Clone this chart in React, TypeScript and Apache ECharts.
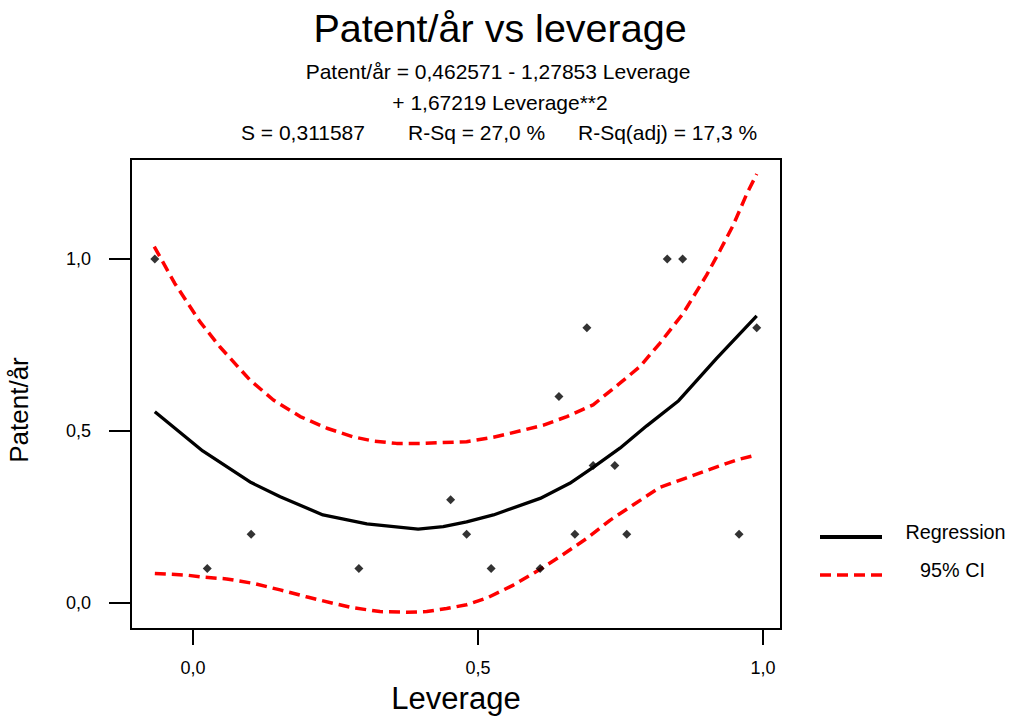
import React, { useEffect, useRef } from "react";
import * as echarts from "echarts";

const FONT = "'Liberation Sans', Arial, sans-serif";

const xTicks = [0, 0.5, 1.0];
const yTicks = [0, 0.5, 1.0];

// observed data (Leverage, Patent/år)
const observations: [number, number][] = [
  [-0.067, 1.0], [0.025, 0.1], [0.102, 0.2], [0.291, 0.1], [0.452, 0.3],
  [0.48, 0.2], [0.523, 0.1], [0.609, 0.1], [0.642, 0.6], [0.67, 0.2],
  [0.691, 0.8], [0.702, 0.4], [0.74, 0.4], [0.761, 0.2], [0.832, 1.0],
  [0.859, 1.0], [0.958, 0.2], [0.989, 0.8],
];

const regression: [number, number][] = [
  [-0.067, 0.556], [0.017, 0.442], [0.102, 0.35], [0.153, 0.309], [0.228, 0.256],
  [0.305, 0.23], [0.395, 0.215], [0.439, 0.222], [0.48, 0.236], [0.527, 0.256],
  [0.609, 0.304], [0.661, 0.348], [0.702, 0.394], [0.749, 0.45], [0.796, 0.515],
  [0.852, 0.588], [0.919, 0.712], [0.989, 0.835],
];

const ciUpper: [number, number][] = [
  [-0.068, 1.036], [-0.032, 0.929], [0.012, 0.818], [0.047, 0.745], [0.1, 0.648],
  [0.141, 0.59], [0.188, 0.542], [0.235, 0.508], [0.281, 0.483], [0.316, 0.471],
  [0.357, 0.464], [0.398, 0.464], [0.48, 0.469], [0.527, 0.482], [0.556, 0.493],
  [0.615, 0.517], [0.656, 0.542], [0.702, 0.576], [0.749, 0.639], [0.784, 0.687],
  [0.819, 0.755], [0.86, 0.842], [0.901, 0.953], [0.925, 1.026], [0.948, 1.099],
  [0.972, 1.191], [0.989, 1.247],
];

const ciLower: [number, number][] = [
  [-0.067, 0.086], [-0.011, 0.081], [0.018, 0.075], [0.059, 0.07], [0.106, 0.057],
  [0.153, 0.038], [0.199, 0.018], [0.246, -0.001], [0.281, -0.014], [0.328, -0.025],
  [0.375, -0.027], [0.41, -0.025], [0.445, -0.016], [0.48, -0.005], [0.515, 0.014],
  [0.562, 0.052], [0.609, 0.098], [0.644, 0.135], [0.691, 0.188], [0.732, 0.241],
  [0.772, 0.285], [0.819, 0.336], [0.866, 0.364], [0.913, 0.392], [0.954, 0.416],
  [0.988, 0.43],
];

const fmt = (v: number) => v.toFixed(1).replace(".", ",");

export default function App() {
  const ref = useRef<HTMLDivElement>(null);
  useEffect(() => {
    if (!ref.current) return;
    const chart = echarts.init(ref.current, null, { renderer: "svg" });
    const txt = (text: string, x: number, y: number, size: number, align = "center", extra: any = {}) => ({
      type: "text",
      x,
      y,
      ...extra,
      style: {
        text,
        fontSize: size,
        fontFamily: FONT,
        fill: "#000",
        align,
        verticalAlign: "middle",
      },
    });
    chart.setOption({
      animation: false,
      backgroundColor: "#fff",
      grid: {
        left: 131,
        top: 159,
        width: 650,
        height: 470,
        show: true,
        borderColor: "#000",
        borderWidth: 2,
        containLabel: false,
        outerBoundsMode: "none",
      },
      xAxis: {
        type: "value",
        min: -0.1088,
        max: 1.0316,
        splitLine: { show: false },
        axisLine: { show: true, onZero: false, lineStyle: { color: "#000", width: 2 } },
        axisTick: { show: true, length: 16, customValues: xTicks, lineStyle: { color: "#000", width: 2 } },
        axisLabel: {
          customValues: xTicks,
          formatter: fmt,
          margin: 30,
          fontSize: 18,
          fontFamily: FONT,
          color: "#000",
        },
      },
      yAxis: {
        type: "value",
        min: -0.0756,
        max: 1.2907,
        splitLine: { show: false },
        axisLine: { show: true, onZero: false, lineStyle: { color: "#000", width: 2 } },
        axisTick: { show: true, length: 22, customValues: yTicks, lineStyle: { color: "#000", width: 2 } },
        axisLabel: {
          customValues: yTicks,
          formatter: fmt,
          margin: 40,
          fontSize: 18,
          fontFamily: FONT,
          color: "#000",
        },
      },
      series: [
        {
          name: "95% CI upper",
          type: "line",
          data: ciUpper,
          symbol: "none",
          lineStyle: { color: "#ff0000", width: 3.5, type: [11, 6] },
          z: 2,
        },
        {
          name: "95% CI lower",
          type: "line",
          data: ciLower,
          symbol: "none",
          lineStyle: { color: "#ff0000", width: 3.5, type: [11, 6] },
          z: 2,
        },
        {
          name: "Regression",
          type: "line",
          data: regression,
          symbol: "none",
          lineStyle: { color: "#000", width: 3.3 },
          z: 3,
        },
        {
          name: "Data",
          type: "scatter",
          data: observations,
          symbol: "diamond",
          symbolSize: 9,
          itemStyle: { color: "#000" },
          z: 4,
        },
      ],
      graphic: [
        txt("Patent/år vs leverage", 500, 27.5, 39.5),
        txt("Patent/år = 0,462571 - 1,27853 Leverage", 498, 71, 21),
        txt("+ 1,67219 Leverage**2", 500, 102, 21),
        txt("S = 0,311587", 241, 132, 21, "left"),
        txt("R-Sq = 27,0 %", 408, 132, 21, "left"),
        txt("R-Sq(adj) = 17,3 %", 578, 132, 21, "left"),
        txt("Leverage", 456, 698, 31),
        txt("Patent/år", 19, 410, 26, "center", { rotation: Math.PI / 2 }),
        {
          type: "line",
          shape: { x1: 820, y1: 537, x2: 882, y2: 537 },
          style: { stroke: "#000", lineWidth: 4 },
        },
        {
          type: "line",
          shape: { x1: 820, y1: 575, x2: 882, y2: 575 },
          style: { stroke: "#ff0000", lineWidth: 3.5, lineDash: [11, 6] },
        },
        txt("Regression", 955.5, 532, 19.8),
        txt("95% CI", 952.5, 570, 19.8),
      ],
    });
    return () => chart.dispose();
  }, []);
  return (
    <div
      ref={ref}
      style={{ position: "absolute", left: 0, top: 0, width: 1009, height: 717 }}
    />
  );
}
